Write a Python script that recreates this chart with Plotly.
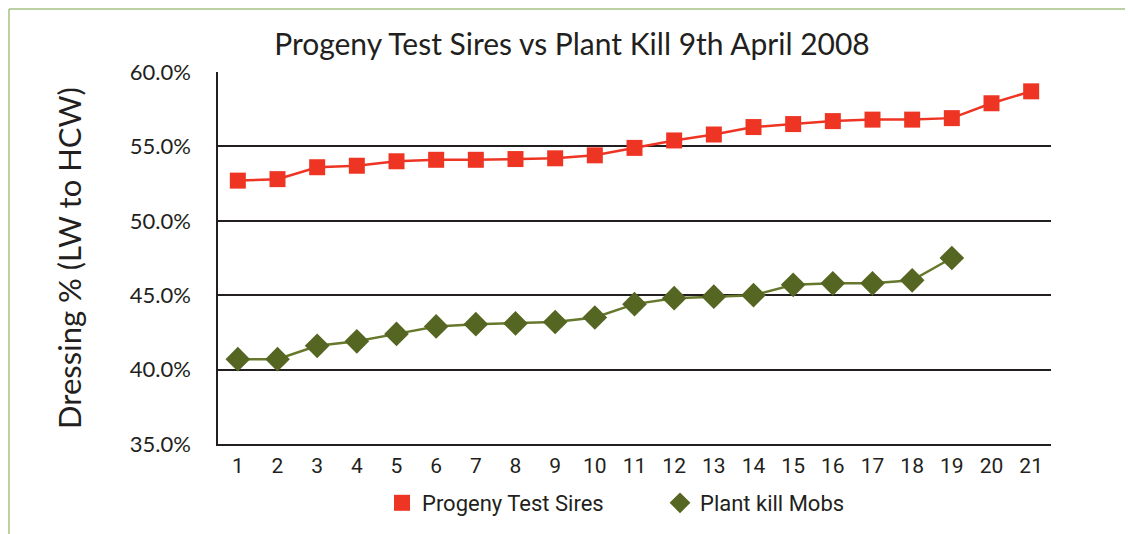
import plotly.graph_objects as go

x_labels = list(range(1, 22))
progeny = [52.7, 52.8, 53.6, 53.7, 54.0, 54.1, 54.1, 54.15, 54.2, 54.4, 54.9,
           55.4, 55.8, 56.3, 56.5, 56.7, 56.8, 56.8, 56.9, 57.9, 58.7]
plant_kill = [40.7, 40.7, 41.6, 41.9, 42.4, 42.9, 43.05, 43.1, 43.2, 43.5, 44.4,
              44.8, 44.9, 45.0, 45.7, 45.8, 45.8, 46.0, 47.5]

FONT = "Lato"
FONT2 = "Roboto"
RED = "#ee3524"
GREEN = "#556622"
GREEN_LINE = "#66782c"

fig = go.Figure()
# lines with markers (no legend entry)
fig.add_trace(go.Scatter(
    x=x_labels[:len(progeny)], y=progeny, name="Progeny Test Sires",
    mode="lines+markers", showlegend=False, legendgroup="a",
    line=dict(color=RED, width=2.5),
    marker=dict(symbol="square", size=16, color=RED),
))
fig.add_trace(go.Scatter(
    x=x_labels[:len(plant_kill)], y=plant_kill, name="Plant kill Mobs",
    mode="lines+markers", showlegend=False, legendgroup="b",
    line=dict(color=GREEN_LINE, width=2.5),
    marker=dict(symbol="diamond", size=19, color=GREEN),
))
# marker-only legend entries
fig.add_trace(go.Scatter(
    x=[None], y=[None], name="Progeny Test Sires", mode="markers",
    legendgroup="a",
    marker=dict(symbol="square", size=17, color=RED),
))
fig.add_trace(go.Scatter(
    x=[None], y=[None], name="Plant kill Mobs", mode="markers",
    legendgroup="b",
    marker=dict(symbol="diamond", size=21, color=GREEN),
))

OFF = 8  # page body margin
W, H = 1133, 534
L, R, T, B = 218 - OFF, W - (1051 - OFF), 72 - OFF, H - (444 - OFF)
pw, ph = W - L - R, H - T - B

def px(x):
    return (x - OFF - L) / pw

def py(y):
    return (H - B - (y - OFF)) / ph

fig.update_layout(
    width=W, height=H,
    margin=dict(l=L, r=R, t=T, b=B, autoexpand=False),
    paper_bgcolor="white", plot_bgcolor="white",
    font=dict(family=FONT, color="#231f20"),
    title=dict(text="Progeny Test Sires vs Plant Kill 9th April 2008",
               x=(572 - OFF) / W, xref="container", xanchor="center",
               y=1 - (44 - OFF) / H, yref="container", yanchor="middle",
               font=dict(size=30, family=FONT, color="#231f20")),
    xaxis=dict(range=[0.5, 21.5], tickmode="array", tickvals=x_labels,
               ticktext=[str(v) for v in x_labels], showgrid=False,
               showline=True, linecolor="#231f20", linewidth=1.5,
               ticks="", tickfont=dict(size=21, family=FONT2),
               zeroline=False, automargin=False, ticklabelstandoff=2),
    yaxis=dict(range=[35, 60], dtick=5, tickformat=".1f", ticksuffix="%",
               showgrid=True, gridcolor="#231f20", gridwidth=1.5,
               showline=True, linecolor="#231f20", linewidth=1.5,
               ticks="", tickfont=dict(size=22, family=FONT),
               zeroline=False, automargin=False, ticklabelstandoff=21,
               title=dict(text="Dressing % (LW to HCW)",
                          font=dict(size=31, family=FONT), standoff=39)),
    legend=dict(orientation="h", x=px(660), xanchor="center",
                y=py(503), yanchor="middle",
                font=dict(size=22, family=FONT2), itemwidth=30,
                entrywidth=233, tracegroupgap=0),
    showlegend=True,
)

# green frame (partially cut off at right and bottom)
fig.add_shape(type="line", xref="paper", yref="paper",
              x0=px(9), x1=px(1150), y0=py(9), y1=py(9),
              line=dict(color="#a6c285", width=1.5))
fig.add_shape(type="line", xref="paper", yref="paper",
              x0=px(9), x1=px(9), y0=py(9), y1=py(560),
              line=dict(color="#a6c285", width=1.5))

fig.write_html("out.html")
